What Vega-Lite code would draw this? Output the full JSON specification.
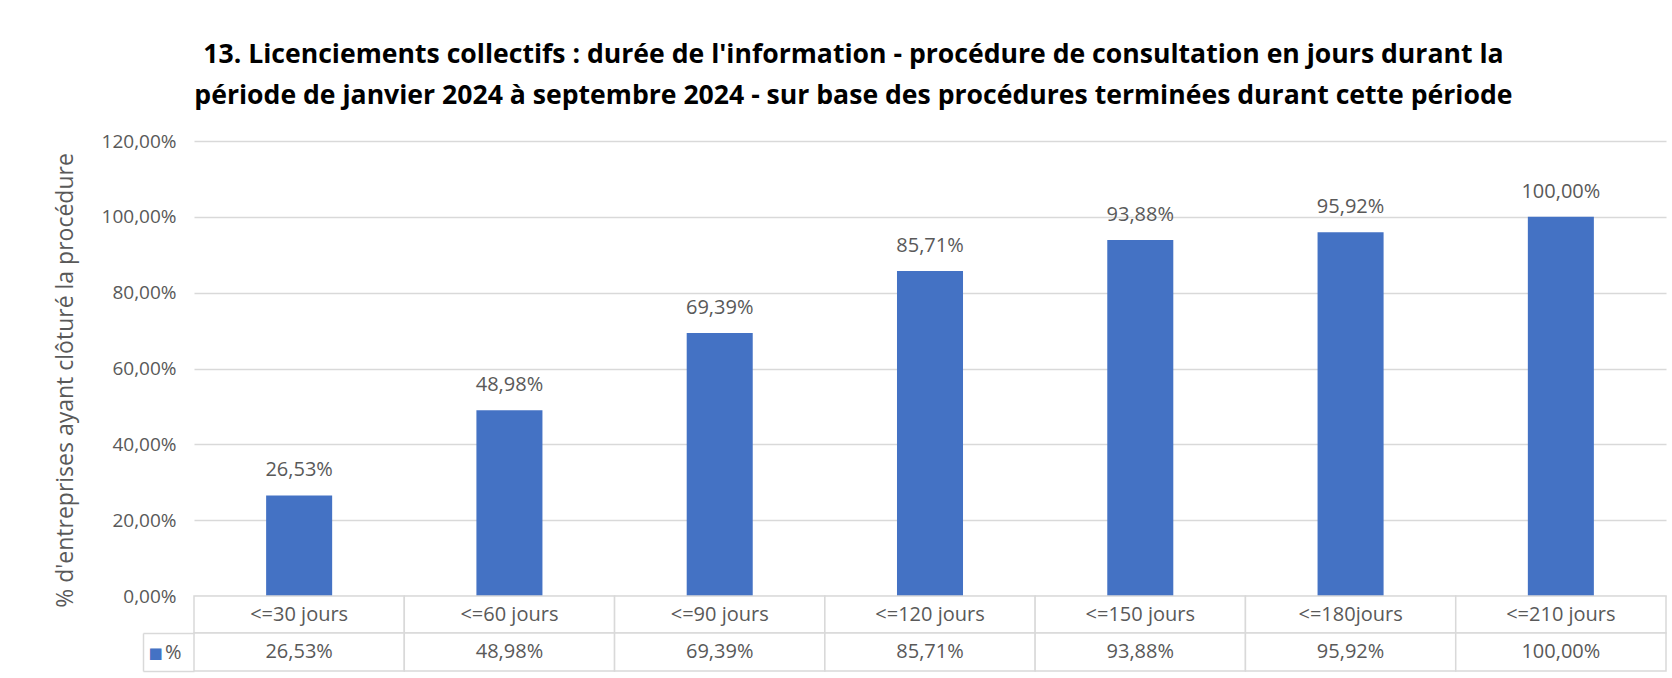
{
  "$schema": "https://vega.github.io/schema/vega-lite/v6.json",
  "padding": {"left": 54, "top": 42, "right": 7, "bottom": 7},
  "background": "white",
  "title": {
    "text": ["13. Licenciements collectifs : durée de l'information - procédure de consultation en jours durant la", "période de janvier 2024 à septembre 2024 - sur base des procédures terminées durant cette période"],
    "anchor": "middle",
    "font": "Open Sans",
    "fontSize": 26.6,
    "fontWeight": "bold",
    "color": "#000000",
    "lineHeight": 41,
    "offset": 22,
    "dx": -7
  },
  "data": {"values": [
    {"cat": "<=30 jours", "pct": 0.2653, "serie": "%"},
    {"cat": "<=60 jours", "pct": 0.4898, "serie": "%"},
    {"cat": "<=90 jours", "pct": 0.6939, "serie": "%"},
    {"cat": "<=120 jours", "pct": 0.8571, "serie": "%"},
    {"cat": "<=150 jours", "pct": 0.9388, "serie": "%"},
    {"cat": "<=180jours", "pct": 0.9592, "serie": "%"},
    {"cat": "<=210 jours", "pct": 1.0, "serie": "%"}
  ]},
  "bounds": "flush",
  "spacing": 0,
  "vconcat": [
    {
      "width": 1472,
      "height": 455,
      "layer": [
        {
          "mark": {"type": "bar", "color": "#4472c4"},
          "encoding": {
            "x": {"field": "cat", "type": "nominal", "sort": null, "axis": null, "scale": {"paddingInner": 0.686, "paddingOuter": 0.343}},
            "y": {"field": "pct", "type": "quantitative", "scale": {"domain": [0, 1.2]},
              "axis": {
                "title": "% d'entreprises ayant clôturé la procédure",
                "values": [0, 0.2, 0.4, 0.6, 0.8, 1, 1.2],
                "format": ".2%",
                "domain": false, "ticks": false, "grid": true,
                "gridColor": "#d9d9d9", "gridWidth": 1.3,
                "labelPadding": 18, "labelFontSize": 19, "labelColor": "#595959", "labelFont": "Open Sans",
                "titleFontSize": 23, "titleFont": "Open Sans", "titleColor": "#595959", "titleFontWeight": "normal", "titlePadding": 24,
                "titleY": 239
              }
            }
          }
        },
        {
          "mark": {"type": "text", "baseline": "alphabetic", "dy": -19, "fontSize": 20, "color": "#595959", "font": "Open Sans"},
          "encoding": {
            "x": {"field": "cat", "type": "nominal", "sort": null},
            "y": {"field": "pct", "type": "quantitative"},
            "text": {"field": "pct", "type": "quantitative", "format": ".2%"}
          }
        }
      ]
    },
    {
      "width": 1472,
      "height": 37,
      "layer": [
        {
          "mark": {"type": "rect", "fill": "white", "stroke": "#d9d9d9", "strokeWidth": 1.5},
          "encoding": {
            "x": {"field": "cat", "type": "nominal", "sort": null, "axis": null, "scale": {"paddingInner": 0, "paddingOuter": 0}}
          }
        },
        {
          "mark": {"type": "text", "fontSize": 20, "color": "#595959", "font": "Open Sans", "baseline": "middle"},
          "encoding": {
            "x": {"field": "cat", "type": "nominal", "sort": null},
            "text": {"field": "cat", "type": "nominal"}
          }
        }
      ]
    },
    {
      "width": 1472,
      "height": 38,
      "layer": [
        {
          "mark": {"type": "rect", "fill": "white", "stroke": "#d9d9d9", "strokeWidth": 1.5},
          "encoding": {
            "x": {"field": "cat", "type": "nominal", "sort": null, "axis": null, "scale": {"paddingInner": 0, "paddingOuter": 0}},
            "y": {"field": "serie", "type": "nominal", "scale": {"paddingInner": 0, "paddingOuter": 0},
              "axis": {"orient": "left", "offset": 51, "title": null, "domain": true, "domainColor": "#d9d9d9", "domainWidth": 1.5,
                "ticks": true, "tickSize": -51, "tickBand": "extent", "tickColor": "#d9d9d9", "tickWidth": 1.5,
                "labelPadding": 13, "labelAlign": "right", "labelFontSize": 20, "labelColor": "#595959", "labelFont": "Open Sans"}
            }
          }
        },
        {
          "mark": {"type": "text", "fontSize": 20, "color": "#595959", "font": "Open Sans", "baseline": "middle"},
          "encoding": {
            "x": {"field": "cat", "type": "nominal", "sort": null},
            "y": {"field": "serie", "type": "nominal", "scale": {"paddingInner": 0, "paddingOuter": 0},
              "axis": {"orient": "left", "offset": 51, "title": null, "domain": false, "ticks": false,
                "labelExpr": "'■'", "labelColor": "#4472c4", "labelFontSize": 15, "labelFont": "DejaVu Sans",
                "labelAlign": "left", "labelPadding": -5}
            },
            "text": {"field": "pct", "type": "quantitative", "format": ".2%"}
          }
        }
      ],
      "resolve": {"scale": {"y": "independent"}, "axis": {"y": "independent"}}
    }
  ],
  "config": {
    "view": {"stroke": null},
    "locale": {"number": {"decimal": ",", "thousands": ".", "grouping": [3], "currency": ["", " €"]}}
  }
}
